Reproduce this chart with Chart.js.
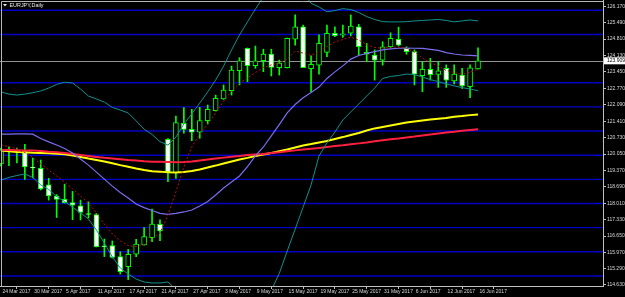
<!DOCTYPE html>
<html>
<head>
<meta charset="utf-8">
<script src="https://cdn.jsdelivr.net/npm/chart.js@4.4.1/dist/chart.umd.min.js"></script>
<style>
  html, body { margin: 0; padding: 0; background: #000; }
  #wrap { width: 625px; height: 297px; }
</style>
</head>
<body>
<div id="wrap"><canvas id="chart" width="625" height="297"></canvas></div>
<script>
// заголовок и подписи
const chartTitle = "EURJPY,Daily";
const dateLabels = ["24 Mar 2017", "30 Mar 2017", "5 Apr 2017", "11 Apr 2017", "17 Apr 2017", "21 Apr 2017",
   "27 Apr 2017", "3 May 2017", "9 May 2017", "15 May 2017", "19 May 2017", "25 May 2017", "31 May 2017",
   "6 Jun 2017", "12 Jun 2017", "16 Jun 2017"];
const dateTickBars = [0, 4, 8, 12, 16, 20, 24, 28, 32, 36, 40, 44, 48, 52, 56, 60];
const priceTicks = [126.17, 125.49, 124.81, 124.13, 123.45, 122.77, 122.09, 121.41, 120.73, 120.05,
   119.37, 118.69, 118.01, 117.33, 116.65, 115.97, 115.29, 114.63];

// свечи (по одной на торговый день)
const openP = [119.64, 120.20, 120.16, 120.14, 119.50, 119.46, 118.77, 118.31, 118.17, 118.04,
   117.90, 117.58, 117.54, 116.25, 116.26, 115.80, 115.38, 115.90, 116.28, 116.59,
   117.14, 120.66, 119.28, 121.32, 121.07, 120.95, 121.43, 121.84, 122.33, 122.67,
   123.50, 124.43, 123.71, 123.91, 124.19, 123.62, 123.62, 124.80, 125.32, 123.58,
   123.73, 124.26, 125.05, 124.97, 125.05, 125.32, 124.26, 124.15, 123.94, 124.49,
   124.80, 124.43, 124.29, 123.29, 123.56, 123.35, 123.60, 123.08, 123.32, 122.84,
   123.57];
const highP = [120.30, 120.35, 120.30, 120.45, 119.88, 119.80, 119.04, 118.37, 118.80, 118.50,
   118.14, 118.07, 117.59, 116.53, 116.45, 116.00, 116.10, 116.52, 117.00, 117.77,
   117.32, 120.69, 121.62, 121.97, 121.90, 121.98, 122.08, 122.49, 122.91, 123.69,
   124.04, 124.44, 124.52, 124.39, 124.39, 123.94, 124.85, 125.81, 125.39, 124.11,
   124.98, 125.39, 125.32, 125.39, 125.81, 125.42, 124.63, 124.36, 124.70, 125.07,
   125.30, 124.49, 124.36, 123.87, 124.01, 123.87, 123.74, 123.74, 123.60, 123.74,
   124.45];
const lowP = [119.55, 119.57, 119.68, 119.00, 119.06, 118.56, 118.14, 117.42, 118.02, 117.33,
   117.32, 117.40, 116.20, 115.80, 115.74, 115.08, 114.85, 115.80, 116.27, 116.42,
   116.46, 118.90, 119.04, 120.91, 120.60, 120.70, 121.29, 121.83, 122.31, 122.49,
   122.91, 123.04, 123.60, 123.46, 123.28, 123.32, 123.61, 124.56, 123.62, 122.63,
   123.36, 124.08, 124.91, 124.88, 124.94, 124.15, 123.87, 123.11, 123.73, 124.46,
   124.52, 124.18, 122.91, 122.63, 123.11, 122.81, 122.81, 122.95, 122.77, 122.38,
   123.56];
const closeP = [120.22, 120.24, 120.18, 119.52, 119.47, 118.60, 118.31, 118.17, 118.03, 117.93,
   117.63, 117.55, 116.21, 116.21, 115.77, 115.18, 115.90, 116.32, 116.63, 117.15,
   116.86, 119.30, 121.35, 121.07, 120.95, 121.43, 121.90, 122.36, 122.70, 123.53,
   123.91, 123.71, 123.91, 124.19, 123.64, 123.81, 124.84, 125.32, 123.63, 123.76,
   124.63, 125.05, 124.95, 125.03, 125.35, 124.49, 124.18, 123.94, 124.49, 124.84,
   124.56, 124.29, 123.36, 123.56, 123.33, 123.49, 123.11, 123.36, 122.87, 123.62,
   123.91];

// индикаторы
const bbMiddle = [120.87, 120.87, 120.88, 120.88, 120.87, 120.69, 120.55, 120.42, 120.28, 120.09,
   119.84, 119.59, 119.30, 119.01, 118.72, 118.46, 118.23, 117.98, 117.83, 117.71,
   117.59, 117.55, 117.59, 117.65, 117.73, 117.90, 118.08, 118.35, 118.64, 118.89,
   119.14, 119.53, 119.97, 120.34, 120.80, 121.27, 121.75, 122.10, 122.38, 122.60,
   122.82, 123.18, 123.45, 123.70, 123.98, 124.13, 124.22, 124.29, 124.36, 124.40,
   124.43, 124.44, 124.43, 124.42, 124.38, 124.34, 124.25, 124.19, 124.15, 124.13,
   124.11];
const bbUpper = [122.62, 122.53, 122.49, 122.53, 122.59, 122.66, 122.78, 122.93, 123.02, 122.99,
   122.74, 122.45, 122.33, 122.20, 121.98, 121.87, 121.75, 121.42, 121.08, 120.86,
   120.56, 120.42, 120.75, 121.29, 121.71, 122.16, 122.62, 123.11, 123.69, 124.36,
   124.98, 125.52, 126.05, 126.55, 126.92, 127.17, 127.39, 127.14, 126.73, 126.29,
   126.14, 125.94, 125.99, 126.07, 126.03, 125.91, 125.74, 125.62, 125.53, 125.52,
   125.52, 125.53, 125.56, 125.58, 125.60, 125.62, 125.58, 125.52, 125.56, 125.60,
   125.56];
const bbLower = [118.97, 119.08, 119.16, 119.22, 119.08, 118.77, 118.58, 118.29, 118.08, 117.85,
   117.61, 117.36, 116.90, 116.36, 115.79, 115.33, 115.08, 114.87, 114.75, 114.71,
   114.71, 114.75, 114.43, 114.01, 113.75, 113.64, 113.54, 113.59, 113.59, 113.42,
   113.30, 113.50, 113.81, 114.09, 114.40, 115.10, 116.03, 116.94, 117.85, 118.77,
   119.97, 120.51, 120.96, 121.46, 121.79, 122.12, 122.45, 122.78, 123.18, 123.26,
   123.30, 123.36, 123.34, 123.24, 123.13, 123.05, 122.95, 122.87, 122.80, 122.74,
   122.67];
const maYellow = [120.19, 120.16, 120.13, 120.12, 120.10, 120.09, 120.08, 120.06, 120.04, 119.99,
   119.93, 119.86, 119.80, 119.74, 119.67, 119.59, 119.52, 119.45, 119.39, 119.34,
   119.32, 119.29, 119.28, 119.30, 119.35, 119.41, 119.49, 119.57, 119.66, 119.74,
   119.82, 119.89, 119.97, 120.03, 120.09, 120.17, 120.24, 120.32, 120.40, 120.46,
   120.53, 120.59, 120.67, 120.75, 120.84, 120.92, 121.02, 121.11, 121.17, 121.23,
   121.29, 121.35, 121.40, 121.44, 121.48, 121.51, 121.54, 121.59, 121.62, 121.66,
   121.69];
const maRed = [120.22, 120.22, 120.21, 120.19, 120.19, 120.17, 120.14, 120.12, 120.09, 120.05,
   120.01, 119.97, 119.93, 119.89, 119.86, 119.83, 119.80, 119.78, 119.75, 119.73,
   119.73, 119.72, 119.71, 119.72, 119.74, 119.78, 119.82, 119.86, 119.90, 119.94,
   119.97, 120.01, 120.03, 120.05, 120.09, 120.12, 120.16, 120.20, 120.24, 120.27,
   120.30, 120.34, 120.38, 120.41, 120.45, 120.49, 120.53, 120.58, 120.62, 120.66,
   120.69, 120.73, 120.77, 120.82, 120.86, 120.90, 120.94, 120.97, 121.01, 121.04,
   121.07];
const maDotted = [120.42, 120.36, 120.26, 120.11, 119.90, 119.64, 119.39, 119.14, 118.89, 118.60,
   118.31, 118.02, 117.61, 117.15, 116.74, 116.45, 116.26, 116.22, 116.30, 116.53,
   116.78, 117.52, 118.48, 119.51, 120.34, 120.88, 121.29, 121.75, 122.24, 122.66,
   122.98, 123.20, 123.42, 123.63, 123.74, 123.82, 123.98, 124.31, 124.23, 124.13,
   124.27, 124.50, 124.69, 124.79, 124.89, 124.77, 124.58, 124.46, 124.43, 124.48,
   124.48, 124.43, 124.27, 124.02, 123.84, 123.69, 123.51, 123.42, 123.36, 123.44,
   123.56];

// горизонтальные уровни и текущая цена
const levels = [126, 125, 123, 122, 121, 120, 119, 118, 117, 116, 115];
const bidPrice = 123.909;
const bidLabel = "123.909";

const xMin = -0.126, xMax = 75.72;
const yMin = 114.584, yMax = 126.427;

const pts = (arr) => arr.map((v, i) => ({ x: i, y: v }));
const FONT = "'Liberation Sans', Arial, sans-serif";

const overlay = {
   id: "overlay",
   beforeDatasetsDraw(chart) {
      const { ctx, chartArea: a, scales: { y } } = chart;
      ctx.save();
      ctx.lineWidth = 1.4;
      ctx.strokeStyle = "#0000c4";
      levels.forEach(v => {
         const py = y.getPixelForValue(v);
         ctx.beginPath(); ctx.moveTo(a.left, py); ctx.lineTo(a.right, py); ctx.stroke();
      });
      const by = Math.round(y.getPixelForValue(bidPrice)) + 0.5;
      ctx.lineWidth = 1;
      ctx.strokeStyle = "#909090";
      ctx.beginPath(); ctx.moveTo(a.left, by); ctx.lineTo(a.right, by); ctx.stroke();
      ctx.restore();
   },
   afterDraw(chart) {
      const { ctx, chartArea: a, scales: { y } } = chart;
      ctx.save();
      // рамка сверху и слева
      ctx.strokeStyle = "#b8b8b8";
      ctx.lineWidth = 1;
      ctx.beginPath();
      ctx.moveTo(a.left + 1.5, a.bottom); ctx.lineTo(a.left + 1.5, a.top + 1.5); ctx.lineTo(a.right, a.top + 1.5);
      ctx.stroke();
      // метка цены
      const by = y.getPixelForValue(bidPrice);
      ctx.fillStyle = "#ffffff";
      ctx.fillRect(a.right + 1, by - 3.5, chart.width - a.right - 1, 7);
      ctx.fillStyle = "#000000";
      ctx.font = "5px " + FONT;
      ctx.textBaseline = "middle";
      ctx.textAlign = "left";
      ctx.fillText(bidLabel, a.right + 4, by + 0.3);
      // заголовок
      ctx.fillStyle = "#e8e8e8";
      ctx.beginPath(); ctx.moveTo(3, 4); ctx.lineTo(7, 4); ctx.lineTo(5, 6.5); ctx.closePath(); ctx.fill();
      ctx.font = "5.4px " + FONT;
      ctx.fillText(chartTitle, 9.5, 5.3);
      ctx.restore();
   }
};

const lineDs = (data, color, width, order, dash) => ({
   type: "line",
   data: pts(data),
   borderColor: color,
   borderWidth: width,
   borderDash: dash || [],
   pointRadius: 0,
   tension: 0,
   fill: false,
   order: order,
});

new Chart(document.getElementById("chart").getContext("2d"), {
   type: "bar",
   data: {
      datasets: [
         lineDs(maDotted, "#b81010", 1, 0, [2, 2]),
         lineDs(bbMiddle, "#7b6cf0", 1.2, 1),
         lineDs(bbUpper, "#119090", 1, 1),
         lineDs(bbLower, "#119090", 1, 1),
         lineDs(maRed, "#ff2040", 2, 2),
         lineDs(maYellow, "#ffff00", 2, 3),
         {
            // тела свечей
            data: openP.map((o, i) => ({ x: i, y: [o, closeP[i]] })),
            backgroundColor: openP.map((o, i) => closeP[i] >= o ? "#000000" : "#ffffff"),
            borderColor: "#00ff00",
            borderWidth: 1,
            borderSkipped: false,
            barThickness: 5,
            maxBarThickness: 5,
            grouped: false,
            order: 5,
         },
         {
            // тени
            data: lowP.map((l, i) => ({ x: i, y: [l, highP[i]] })),
            backgroundColor: "#00ff00",
            borderWidth: 0,
            barThickness: 1,
            maxBarThickness: 1,
            grouped: false,
            order: 6,
         },
      ],
   },
   options: {
      responsive: false,
      animation: false,
      devicePixelRatio: 1,
      layout: { padding: 0 },
      plugins: { legend: { display: false }, tooltip: { enabled: false } },
      scales: {
         x: {
            type: "linear",
            min: xMin,
            max: xMax,
            offset: false,
            afterBuildTicks: s => { s.ticks = dateTickBars.map(v => ({ value: v })); },
            afterFit: s => { s.height = 11; s.paddingLeft = 0; s.paddingRight = 0; },
            grid: { drawOnChartArea: false, tickLength: 3, color: "#c0c0c0" },
            border: { color: "#c0c0c0" },
            ticks: {
               autoSkip: false,
               maxRotation: 0,
               minRotation: 0,
               align: "start",
               padding: 0,
               color: "#d8d8d8",
               font: { size: 5, family: FONT },
               callback: (v, i) => " " + dateLabels[i],
            },
         },
         y: {
            position: "right",
            min: yMin,
            max: yMax,
            afterBuildTicks: s => { s.ticks = priceTicks.map(v => ({ value: v })); },
            afterFit: s => { s.width = 22; s.paddingTop = 0; s.paddingBottom = 0; },
            grid: { drawOnChartArea: false, tickLength: 3, color: "#c0c0c0" },
            border: { color: "#c0c0c0" },
            ticks: {
               autoSkip: false,
               padding: 1,
               color: "#d8d8d8",
               font: { size: 5, family: FONT },
               callback: v => v.toFixed(3),
            },
         },
      },
   },
   plugins: [overlay],
});
</script>
</body>
</html>
